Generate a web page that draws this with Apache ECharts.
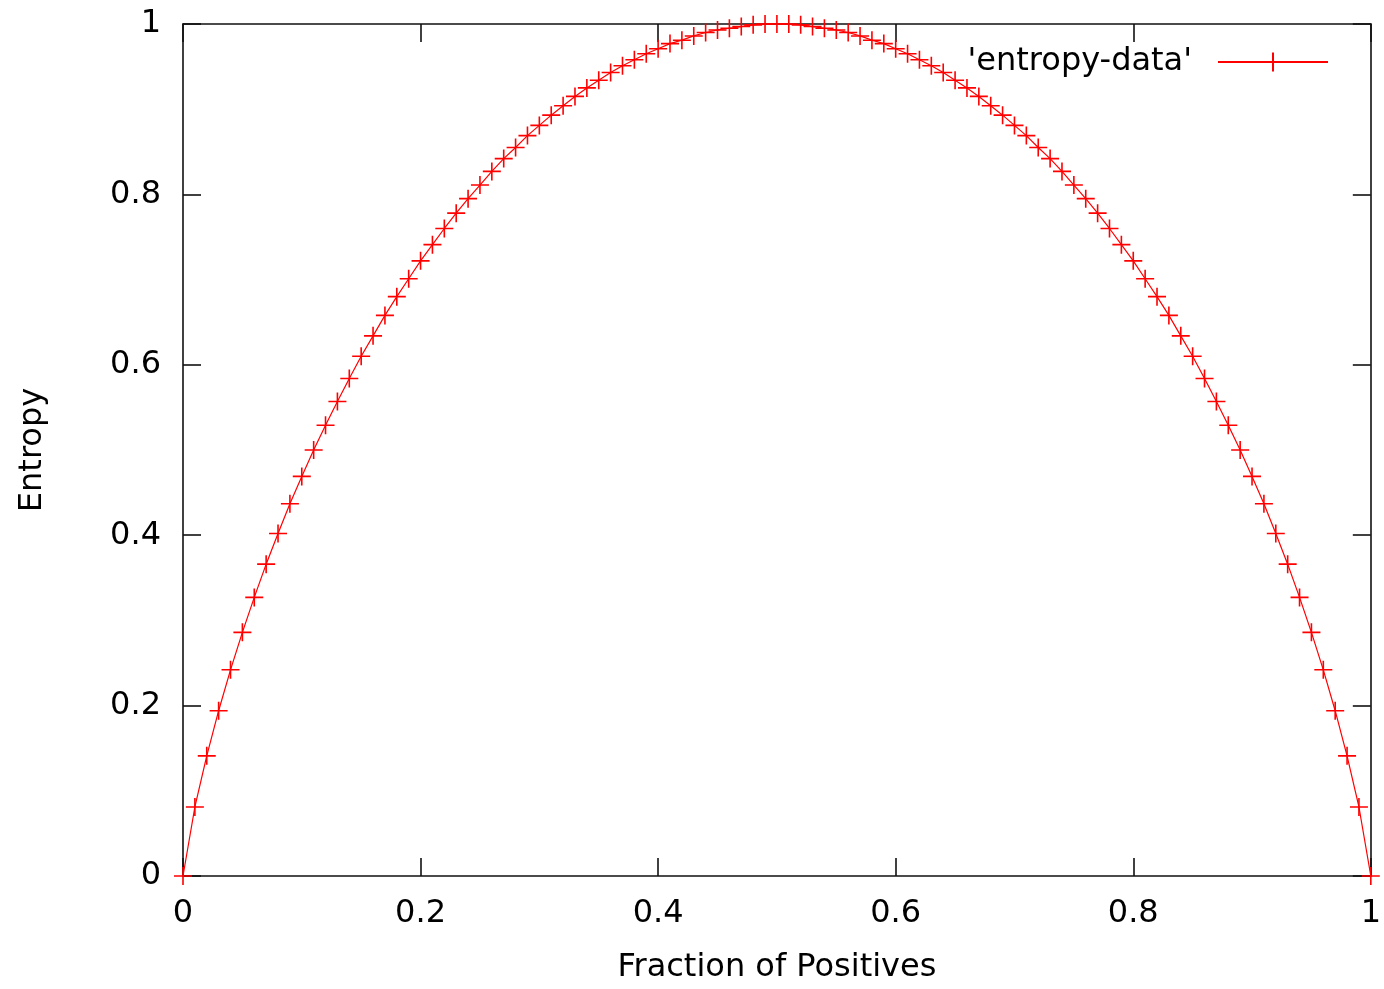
<!DOCTYPE html>
<html>
<head>
<meta charset="utf-8">
<script src="https://cdn.jsdelivr.net/npm/echarts@6/dist/echarts.min.js"></script>
<style>html,body{margin:0;padding:0;background:#fff;}#c{width:1384px;height:989px;}</style>
</head>
<body>
<div id="c"></div>
<script>
const seriesName = "'entropy-data'";
const xLabel = 'Fraction of Positives';
const yLabel = 'Entropy';
const xValues = [0,0.01,0.02,0.03,0.04,0.05,0.06,0.07,0.08,0.09,0.1,0.11,0.12,0.13,0.14,0.15,0.16,0.17,0.18,0.19,0.2,0.21,0.22,0.23,0.24,0.25,0.26,0.27,0.28,0.29,0.3,0.31,0.32,0.33,0.34,0.35,0.36,0.37,0.38,0.39,0.4,0.41,0.42,0.43,0.44,0.45,0.46,0.47,0.48,0.49,0.5,0.51,0.52,0.53,0.54,0.55,0.56,0.57,0.58,0.59,0.6,0.61,0.62,0.63,0.64,0.65,0.66,0.67,0.68,0.69,0.7,0.71,0.72,0.73,0.74,0.75,0.76,0.77,0.78,0.79,0.8,0.81,0.82,0.83,0.84,0.85,0.86,0.87,0.88,0.89,0.9,0.91,0.92,0.93,0.94,0.95,0.96,0.97,0.98,0.99,1];
const entropyValues = [0,0.081,0.141,0.194,0.242,0.286,0.327,0.366,0.402,0.437,0.469,0.500,0.529,0.557,0.584,0.610,0.634,0.658,0.680,0.701,0.722,0.741,0.760,0.778,0.795,0.811,0.827,0.842,0.855,0.869,0.881,0.893,0.904,0.915,0.925,0.934,0.943,0.951,0.958,0.965,0.971,0.977,0.981,0.986,0.990,0.993,0.995,0.997,0.999,1.000,1.000,1.000,0.999,0.997,0.995,0.993,0.990,0.986,0.981,0.977,0.971,0.965,0.958,0.951,0.943,0.934,0.925,0.915,0.904,0.893,0.881,0.869,0.855,0.842,0.827,0.811,0.795,0.778,0.760,0.741,0.722,0.701,0.680,0.658,0.634,0.610,0.584,0.557,0.529,0.500,0.469,0.437,0.402,0.366,0.327,0.286,0.242,0.194,0.141,0.081,0];
const xTicks = [0, 0.2, 0.4, 0.6, 0.8, 1];
const yTicks = [0, 0.2, 0.4, 0.6, 0.8, 1];

const FONT = '"DejaVu Sans", "Liberation Sans", Arial, sans-serif';
const plusSymbol = 'path://M10,0 L10,20 M0,10 L20,10';
const axisLine = {show: true, onZero: false, lineStyle: {color: '#111', width: 1.6}};
const axisTick = {show: true, inside: true, length: 18, lineStyle: {color: '#111', width: 1.6}};
const labelStyle = {color: '#000', fontFamily: FONT, fontSize: 32};

const chart = echarts.init(document.getElementById('c'), null, {renderer: 'canvas'});
chart.setOption({
  backgroundColor: '#fff',
  animation: false,
  grid: {left: 183, top: 24, width: 1189, height: 853, containLabel: false},
  legend: {
    show: true,
    right: 50, top: 41,
    align: 'right',
    itemWidth: 110, itemHeight: 24,
    textStyle: {color: '#000', fontFamily: FONT, fontSize: 32, padding: [0, 21, 0, 0]},
    data: [{name: seriesName}]
  },
  xAxis: [{
    type: 'value', min: 0, max: 1, interval: 0.2, position: 'bottom',
    axisLine: axisLine, axisTick: axisTick, splitLine: {show: false},
    axisLabel: Object.assign({margin: 22, formatter: v => String(+v.toFixed(1))}, labelStyle),
    name: xLabel, nameLocation: 'middle', nameGap: 76,
    nameTextStyle: {color: '#000', fontFamily: FONT, fontSize: 32}
  }, {
    type: 'value', min: 0, max: 1, interval: 0.2, position: 'top',
    axisLine: axisLine, axisTick: axisTick, splitLine: {show: false}, axisLabel: {show: false}
  }],
  yAxis: [{
    type: 'value', min: 0, max: 1, interval: 0.2, position: 'left',
    axisLine: axisLine, axisTick: axisTick, splitLine: {show: false},
    axisLabel: Object.assign({margin: 22, formatter: v => String(+v.toFixed(1))}, labelStyle),
    name: yLabel, nameLocation: 'middle', nameGap: 134, nameRotate: 90,
    nameTextStyle: {color: '#000', fontFamily: FONT, fontSize: 32}
  }, {
    type: 'value', min: 0, max: 1, interval: 0.2, position: 'right',
    axisLine: axisLine, axisTick: axisTick, splitLine: {show: false}, axisLabel: {show: false}
  }],
  series: [{
    name: seriesName,
    type: 'line',
    xAxisIndex: 0, yAxisIndex: 0,
    data: xValues.map((x, i) => [x, entropyValues[i]]),
    symbol: plusSymbol,
    symbolSize: 18,
    showSymbol: true,
    showAllSymbol: true,
    clip: false,
    lineStyle: {color: '#ff0000', width: 1.2},
    itemStyle: {color: '#ff0000', borderColor: '#ff0000', borderWidth: 1.6}
  }]
});
</script>
</body>
</html>
